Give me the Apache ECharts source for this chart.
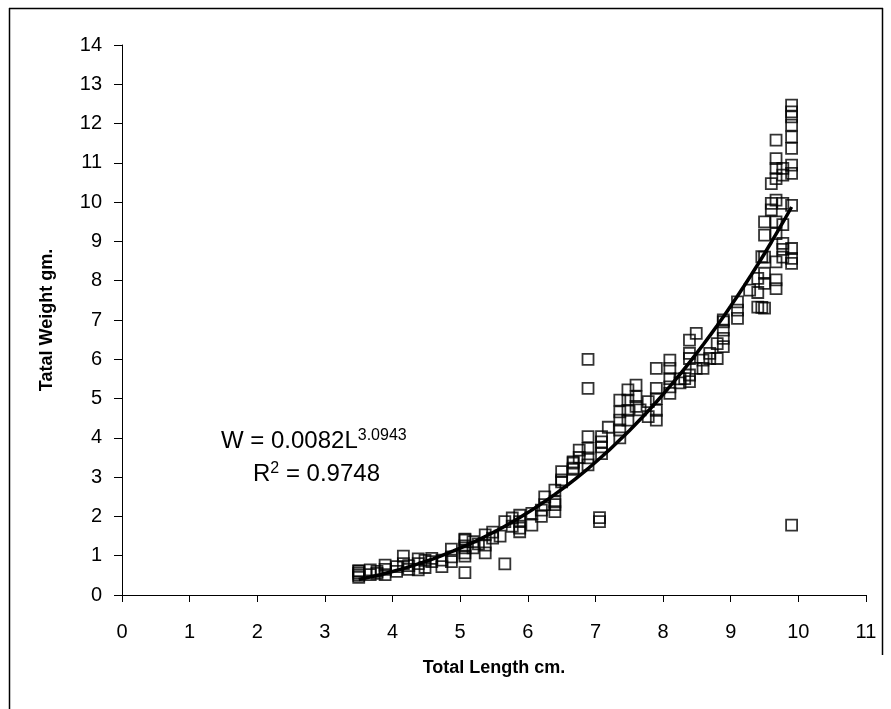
<!DOCTYPE html>
<html>
<head>
<meta charset="utf-8">
<script src="https://cdn.jsdelivr.net/npm/echarts@6/dist/echarts.min.js"></script>
<style>
html,body{margin:0;padding:0;background:#fff;}
#chart{width:891px;height:709px;}
</style>
</head>
<body>
<div id="chart"></div>
<script>
// Observed fish measurements (Total Length cm, Total Weight gm)
var lengths = [
  3.5,3.5,3.5,3.5,3.5,
  3.67,3.67, 3.77,3.77, 3.89,3.89,3.89, 4.06,4.06, 4.16,4.16, 4.24,4.24,
  4.38,4.38,4.38, 4.48,4.48, 4.58,4.58, 4.73,4.73, 4.87,4.87,4.87,
  5.07,5.07,5.07,5.07,5.07,5.07,5.07, 5.19,5.19, 5.27, 5.37,5.37,5.37,
  5.48,5.48, 5.59, 5.66,5.66, 5.77,5.77, 5.88,5.88,5.88,5.88,
  6.06,6.06, 6.2,6.2, 6.25,6.25, 6.4,6.4,6.4,6.4, 6.5,6.5,6.5,
  6.67,6.67,6.67,6.67, 6.76,6.76, 6.89,6.89,6.89,6.89,6.89,6.89,
  7.06,7.06, 7.09,7.09,7.09,7.09, 7.19,
  7.36,7.36,7.36,7.36,7.36, 7.48,7.48,7.48,7.48, 7.6,7.6,7.6, 7.66,
  7.78,7.78, 7.9,7.9,7.9,7.9,7.9, 8.1,8.1,8.1,8.1,8.1, 8.25,8.25, 8.32,
  8.39,8.39,8.39,8.39,8.39, 8.49,8.49, 8.59,8.59, 8.69,8.69, 8.8,8.8,
  8.89,8.89,8.89,8.89,8.89, 9.1,9.1,9.1, 9.28, 9.4,9.4,9.4, 9.46,9.46,
  9.5,9.5,9.5,9.5,9.5,9.5, 9.6,9.6,9.6,
  9.67,9.67,9.67,9.67,9.67,9.67,9.67,9.67,9.67,9.67,
  9.77,9.77,9.77,9.77,9.77,9.77,9.77,
  9.9,9.9,9.9,9.9,9.9,9.9,9.9,9.9,9.9,9.9,9.9,9.9,9.9
];
var weights = [
  0.45,0.5,0.55,0.6,0.62,
  0.52,0.64, 0.55,0.6, 0.52,0.65,0.76, 0.6,0.72, 0.8,0.99, 0.65,0.75,
  0.64,0.8,0.92, 0.7,0.88, 0.85,0.93, 0.72,0.89, 0.85,0.97,1.17,
  0.57,0.99,1.07,1.2,1.25,1.4,1.42, 1.2,1.36, 1.3, 1.07,1.27,1.53,
  1.45,1.6, 1.5, 0.79,1.87, 1.75,1.96, 1.61,1.7,1.87,2.03,
  1.78,2.08, 2.0,2.16, 2.3,2.5, 2.12,2.3,2.37,2.67, 2.88,2.93,3.14,
  3.2,3.23,3.36,3.39, 3.5,3.69, 3.31,3.49,3.73,4.03,5.26,6.0,
  1.87,1.97, 3.6,3.77,3.9,4.03, 4.27,
  4.0,4.2,4.45,4.66,4.96, 4.45,4.7,4.96,5.22, 4.8,5.05,5.34, 4.71,
  4.54,4.92, 4.45,4.7,5.0,5.26,5.77, 5.13,5.3,5.51,5.77,5.98, 5.4,5.5, 5.51,
  5.43,5.6,6.02,6.15,6.49, 5.77,6.66, 5.77,5.98, 6.02,6.15, 6.02,6.4,
  6.32,6.53,6.74,6.95,7.0, 7.04,7.25,7.46, 7.76, 7.7,8.06,7.33, 7.32,8.61,
  7.3,7.93,8.19,8.6,9.16,9.5, 9.8,9.97,10.47,
  7.8,8.02,8.48,9.2,9.5,10.05,10.6,10.86,11.11,11.58,
  8.6,8.8,8.95,9.43,9.97,10.69,10.86,
  1.78,8.44,8.57,8.82,9.92,10.73,10.94,11.37,11.66,11.96,12.17,12.3,12.47
];
// Power trendline printed on the chart: W = a * L^b
var trendA = 0.0082;
var trendB = 3.0943;
var trendFrom = 3.5;
var trendTo = 9.9;
var xTicks = [0,1,2,3,4,5,6,7,8,9,10,11];
var yTicks = [0,1,2,3,4,5,6,7,8,9,10,11,12,13,14];

var points = lengths.map(function(l, i){ return [l, weights[i]]; });
var trend = [];
for (var k = 0; k <= 64; k++) {
  var L = trendFrom + (trendTo - trendFrom) * k / 64;
  trend.push([L, trendA * Math.pow(L, trendB)]);
}

var FONT = '"Liberation Sans", Arial, sans-serif';
var chart = echarts.init(document.getElementById('chart'), null, {renderer: 'canvas'});
chart.setOption({
  backgroundColor: '#fff',
  animation: false,
  grid: {left: 122, top: 45, right: 25, bottom: 114},
  xAxis: {
    type: 'value', min: xTicks[0], max: xTicks[xTicks.length-1], interval: 1,
    axisLine: {show: true, onZero: false, lineStyle: {color: '#000', width: 1}},
    axisTick: {show: true, length: 7, lineStyle: {color: '#000'}},
    splitLine: {show: false},
    axisLabel: {color: '#000', fontSize: 20, fontFamily: FONT, margin: 27},
    name: 'Total Length cm.', nameLocation: 'middle', nameGap: 64,
    nameTextStyle: {color: '#000', fontSize: 18, fontWeight: 'bold', fontFamily: FONT}
  },
  yAxis: {
    type: 'value', min: yTicks[0], max: yTicks[yTicks.length-1], interval: 1,
    axisLine: {show: true, onZero: false, lineStyle: {color: '#000', width: 1}},
    axisTick: {show: true, length: 8, lineStyle: {color: '#000'}},
    splitLine: {show: false},
    axisLabel: {color: '#000', fontSize: 20, fontFamily: FONT, margin: 20},
    name: 'Tatal Weight gm.', nameLocation: 'middle', nameGap: 66,
    nameTextStyle: {color: '#000', fontSize: 18, fontWeight: 'bold', fontFamily: FONT}
  },
  series: [
    {
      type: 'scatter', data: points, symbol: 'rect', symbolSize: 11,
      itemStyle: {color: 'rgba(255,255,255,0)', borderColor: '#000', borderWidth: 1.8},
      z: 2
    },
    {
      type: 'line', data: trend, showSymbol: false, smooth: false,
      lineStyle: {color: '#000', width: 3.5}, z: 3
    }
  ],
  graphic: [
    {type: 'line', shape: {x1: 9.5, y1: 8, x2: 9.5, y2: 709}, style: {stroke: '#000', lineWidth: 1.5}},
    {type: 'line', shape: {x1: 9, y1: 8.5, x2: 883, y2: 8.5}, style: {stroke: '#000', lineWidth: 1.5}},
    {type: 'line', shape: {x1: 882.5, y1: 8, x2: 882.5, y2: 655}, style: {stroke: '#000', lineWidth: 1.5}},
    {type: 'text', left: 221, top: 428, style: {
      text: '{m|W = 0.0082L}{s|3.0943}',
      rich: {
        m: {fontSize: 24, fontFamily: FONT, fill: '#000', lineHeight: 27},
        s: {fontSize: 16, fontFamily: FONT, fill: '#000', verticalAlign: 'top', lineHeight: 27, padding: [0,0,12,0]}
      }
    }},
    {type: 'text', left: 253, top: 461, style: {
      text: '{m|R}{s|2}{m| = 0.9748}',
      rich: {
        m: {fontSize: 24, fontFamily: FONT, fill: '#000', lineHeight: 27},
        s: {fontSize: 16, fontFamily: FONT, fill: '#000', verticalAlign: 'top', lineHeight: 27, padding: [0,0,12,0]}
      }
    }}
  ]
});
</script>
</body>
</html>
